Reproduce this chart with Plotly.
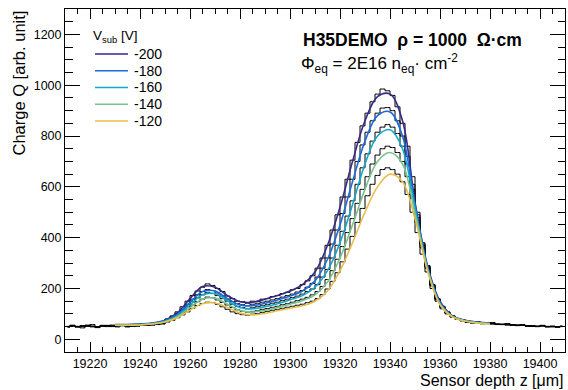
import plotly.graph_objects as go

# ---------------- data ----------------
voltages = ["-200", "-180", "-160", "-140", "-120"]
colors = ["#352A87", "#1C6BDC", "#12A8CC", "#78C48C", "#E8BE4E"]

# smooth (fit) curves, sampled every 5 um
curve_z = [19230, 19235, 19240, 19245, 19250, 19255, 19260, 19265, 19270, 19275,
           19280, 19285, 19290, 19295, 19300, 19305, 19310, 19315, 19320, 19325,
           19330, 19335, 19340, 19345, 19350, 19355, 19360, 19365, 19370, 19375, 19380]
curve_m200 = [58, 58, 60, 64, 75, 105, 160, 208, 205, 172, 148, 146, 158, 172, 190, 215,
              265, 370, 520, 700, 860, 955, 965, 860, 540, 290, 150, 92, 75, 68, 64]
curve_m180 = [57, 57, 59, 63, 73, 98, 145, 188, 190, 160, 135, 132, 142, 155, 170, 190,
              230, 315, 450, 620, 780, 880, 895, 800, 530, 285, 145, 91, 74, 67, 63]
curve_m160 = [56, 56, 58, 62, 71, 93, 135, 175, 180, 152, 125, 120, 128, 140, 155, 172,
              205, 270, 380, 530, 690, 800, 825, 750, 515, 280, 140, 90, 73, 66, 62]
curve_m140 = [55, 55, 57, 61, 69, 89, 125, 158, 162, 138, 113, 107, 114, 125, 138, 152,
              175, 225, 320, 450, 590, 700, 735, 690, 495, 275, 138, 89, 72, 65, 61]
curve_m120 = [55, 55, 56, 60, 68, 85, 115, 140, 143, 125, 103, 96, 102, 112, 122, 132,
              150, 190, 270, 380, 500, 600, 650, 620, 475, 270, 136, 88, 72, 64, 60]

# histograms: 2 um bins, centres 19211 ... 19409
hist_z = [19211 + 2 * i for i in range(100)]
hist_m200 = [48, 55, 50, 45, 53, 58, 47, 52, 50, 56, 49, 53, 57, 51, 54, 60, 55, 58, 62, 66,
             80, 92, 108, 128, 150, 172, 190, 205, 218, 212, 200, 188, 170, 160, 150, 148, 142, 150, 148, 158,
             160, 168, 172, 180, 185, 195, 200, 215, 230, 250, 280, 320, 370, 430, 490, 560, 630, 705, 775, 840,
             890, 935, 965, 985, 978, 960, 915, 850, 760, 640, 500, 380, 290, 215, 160, 130, 108, 92, 82, 78,
             72, 68, 70, 65, 62, 66, 60, 58, 62, 56, 55, 58, 52, 54, 50, 55, 49, 52, 48, 51]
hist_m180 = [50, 54, 48, 52, 56, 51, 46, 53, 55, 50, 52, 57, 49, 55, 53, 58, 56, 57, 61, 65,
             78, 88, 102, 118, 138, 158, 175, 188, 196, 192, 182, 170, 158, 148, 140, 136, 132, 138, 140, 146,
             150, 155, 160, 166, 172, 178, 186, 192, 205, 220, 245, 280, 320, 375, 430, 495, 560, 630, 700, 765,
             815, 860, 890, 910, 912, 900, 860, 800, 720, 610, 490, 375, 288, 215, 160, 128, 106, 92, 82, 76,
             70, 67, 69, 64, 63, 65, 59, 60, 61, 55, 57, 56, 53, 52, 51, 54, 50, 51, 49, 50]
hist_m160 = [51, 53, 49, 54, 52, 50, 48, 55, 52, 51, 54, 55, 50, 53, 55, 57, 55, 59, 60, 63,
             76, 85, 97, 112, 128, 148, 163, 175, 185, 180, 172, 160, 150, 138, 130, 125, 120, 124, 128, 132,
             136, 142, 146, 152, 158, 164, 170, 178, 188, 198, 215, 245, 275, 320, 370, 425, 485, 545, 610, 675,
             730, 780, 815, 835, 845, 835, 810, 760, 690, 590, 480, 370, 285, 212, 158, 126, 104, 90, 80, 75,
             69, 66, 68, 63, 64, 62, 60, 58, 60, 57, 55, 57, 52, 53, 50, 53, 51, 50, 48, 52]
hist_m140 = [49, 55, 51, 50, 54, 52, 49, 51, 54, 52, 50, 56, 51, 54, 52, 56, 57, 58, 59, 62,
             72, 80, 92, 104, 118, 135, 148, 158, 166, 164, 155, 145, 135, 125, 116, 110, 107, 110, 112, 118,
             121, 126, 130, 136, 140, 146, 152, 158, 165, 175, 188, 208, 235, 270, 315, 365, 420, 475, 535, 590,
             640, 690, 725, 750, 760, 755, 735, 700, 640, 555, 460, 360, 280, 210, 156, 125, 103, 89, 80, 74,
             68, 65, 67, 62, 63, 61, 59, 59, 57, 58, 54, 56, 53, 51, 52, 52, 50, 49, 50, 51]
hist_m120 = [50, 52, 50, 53, 51, 49, 50, 54, 51, 53, 52, 54, 50, 52, 53, 55, 56, 56, 58, 60,
             68, 75, 85, 96, 108, 122, 133, 141, 146, 145, 138, 128, 118, 108, 101, 97, 95, 99, 101, 106,
             110, 114, 118, 122, 126, 130, 134, 138, 144, 150, 160, 176, 198, 228, 262, 305, 355, 405, 460, 515,
             565, 610, 645, 668, 675, 668, 650, 620, 570, 500, 420, 335, 265, 200, 150, 120, 100, 87, 78, 72,
             66, 64, 66, 61, 62, 60, 58, 58, 56, 57, 54, 55, 52, 51, 51, 53, 49, 50, 49, 50]

x_tickvals = [19220, 19240, 19260, 19280, 19300, 19320, 19340, 19360, 19380, 19400]
x_ticktext = ["19220", "19240", "19260", "19280", "19300", "19320", "19340", "19360", "19380", "19400"]
y_tickvals = [0, 200, 400, 600, 800, 1000, 1200]
y_ticktext = ["0", "200", "400", "600", "800", "1000", "1200"]

curves = [curve_m200, curve_m180, curve_m160, curve_m140, curve_m120]
hists = [hist_m200, hist_m180, hist_m160, hist_m140, hist_m120]

FONT = "Liberation Sans, Arial, sans-serif"

# plot-area geometry (pixels) used to place paper-referenced decorations
L, T, W, H = 65, 9, 500, 343
def px(x):
    return (x - L) / W
def py(y):
    return (T + H - y) / H

fig = go.Figure()

for h in hists:
    fig.add_trace(go.Scatter(x=hist_z, y=h, mode="lines", line=dict(color="black", width=1, shape="hvh"),
                             showlegend=False, hoverinfo="skip"))

for v, c, col in zip(voltages, curves, colors):
    fig.add_trace(go.Scatter(x=curve_z, y=c, mode="lines", name=v, showlegend=False,
                             line=dict(color=col, width=1.6, shape="spline", smoothing=1.0)))

fig.update_layout(
    width=568, height=390,
    margin=dict(l=L, r=568 - L - W, t=T, b=390 - T - H),
    paper_bgcolor="white", plot_bgcolor="white",
    font=dict(family=FONT, size=13, color="black"),
    showlegend=False,
)

fig.update_xaxes(range=[19210, 19410], tickmode="array", tickvals=x_tickvals, ticktext=x_ticktext,
                 ticks="inside", ticklen=10, tickwidth=1, tickcolor="black",
                 showline=True, linecolor="black", linewidth=1, mirror="allticks",
                 showgrid=False, zeroline=False,
                 tickfont=dict(family=FONT, size=12.5),
                 minor=dict(dtick=5, tick0=19210, ticks="inside", ticklen=5, tickcolor="black", showgrid=False))
fig.update_yaxes(range=[-50, 1300], tickmode="array", tickvals=y_tickvals, ticktext=y_ticktext,
                 ticks="inside", ticklen=15, tickwidth=1, tickcolor="black",
                 showline=True, linecolor="black", linewidth=1, mirror="allticks",
                 showgrid=False, zeroline=False,
                 tickfont=dict(family=FONT, size=12.5),
                 minor=dict(dtick=50, tick0=0, ticks="inside", ticklen=7.5, tickcolor="black", showgrid=False))

# legend (drawn manually to match the compact ROOT legend spacing)
fig.add_annotation(text="V<sub>sub</sub> [V]", xref="paper", yref="paper", x=px(91), y=py(37),
                   xanchor="left", yanchor="middle", showarrow=False, font=dict(family=FONT, size=13.5))
for i, (v, col) in enumerate(zip(voltages, colors)):
    yy = 54 + 16.75 * i
    fig.add_shape(type="line", xref="paper", yref="paper", x0=px(95), x1=px(128), y0=py(yy), y1=py(yy),
                  line=dict(color=col, width=1.6))
    fig.add_annotation(text=v, xref="paper", yref="paper", x=px(132), y=py(yy),
                       xanchor="left", yanchor="middle", showarrow=False, font=dict(family=FONT, size=14))

fig.add_annotation(text="<b>H35DEMO  \u03c1 = 1000  \u03a9\u00b7cm</b>", xref="paper", yref="paper",
                   x=px(301), y=py(40), xanchor="left", yanchor="middle",
                   showarrow=False, font=dict(family=FONT, size=17.5))
fig.add_annotation(text="\u03a6<sub>eq</sub> = 2E16 n<sub>eq</sub>\u00b7 cm<sup>-2</sup>", xref="paper", yref="paper",
                   x=px(299), y=py(64), xanchor="left", yanchor="middle",
                   showarrow=False, font=dict(family=FONT, size=17))
fig.add_annotation(text="Sensor depth z [\u03bcm]", xref="paper", yref="paper",
                   x=1.0, y=py(390), xanchor="right", yanchor="bottom", borderpad=0,
                   showarrow=False, font=dict(family=FONT, size=16))
fig.add_annotation(text="Charge Q [arb. unit]", xref="paper", yref="paper", textangle=-90,
                   x=px(18), y=1.0, xanchor="center", yanchor="top",
                   showarrow=False, font=dict(family=FONT, size=16.5))

fig.write_html("out.html")
